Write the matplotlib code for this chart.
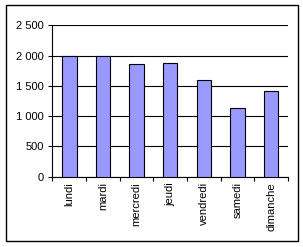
import matplotlib
matplotlib.use("Agg")
import matplotlib.pyplot as plt
from matplotlib.ticker import FuncFormatter, MultipleLocator
from matplotlib.patches import Rectangle

categories = ["lundi", "mardi", "mercredi", "jeudi", "vendredi", "samedi", "dimanche"]
values = [1990, 1990, 1855, 1875, 1595, 1135, 1415]

plt.rcParams['font.family'] = ['Liberation Sans', 'DejaVu Sans']

W, H = 303, 247
fig = plt.figure(figsize=(W / 100, H / 100), dpi=100)
fig.patches.append(Rectangle((5.5 / W, 1 - 240.5 / H), 292 / W, 235 / H,
                             transform=fig.transFigure, fill=False,
                             edgecolor='black', linewidth=1.0))

left, right, top, bottom = 52.5, 288, 25.3, 176.7
ax = fig.add_axes([left / W, 1 - bottom / H, (right - left) / W, (bottom - top) / H])

x = list(range(len(categories)))
ax.bar(x, values, width=0.43, color='#9999FF', edgecolor='black', linewidth=0.8, zorder=3)

ax.set_xlim(-0.5, len(categories) - 0.5)
ax.set_ylim(0, 2500)
ax.yaxis.set_major_locator(MultipleLocator(500))
ax.yaxis.set_major_formatter(FuncFormatter(lambda v, p: f"{int(v):,}".replace(",", " ")))
ax.grid(axis='y', color='black', linewidth=0.8, zorder=0)

ax.set_xticks([i - 0.5 for i in range(len(categories) + 1)], minor=False)
ax.set_xticklabels([])
ax.set_xticks(x, minor=True)
ax.set_xticklabels(categories, minor=True, rotation=90, fontsize=8, va='top', ha='center')
ax.tick_params(axis='x', which='minor', length=0, pad=4)
ax.tick_params(axis='x', which='major', length=3, direction='out', width=0.8)
ax.tick_params(axis='y', length=3, direction='out', width=0.8, labelsize=8, pad=3)

for s in ['top', 'right']:
    ax.spines[s].set_visible(False)
for s in ['left', 'bottom']:
    ax.spines[s].set_linewidth(0.8)

fig.savefig("out.png", dpi=100)
